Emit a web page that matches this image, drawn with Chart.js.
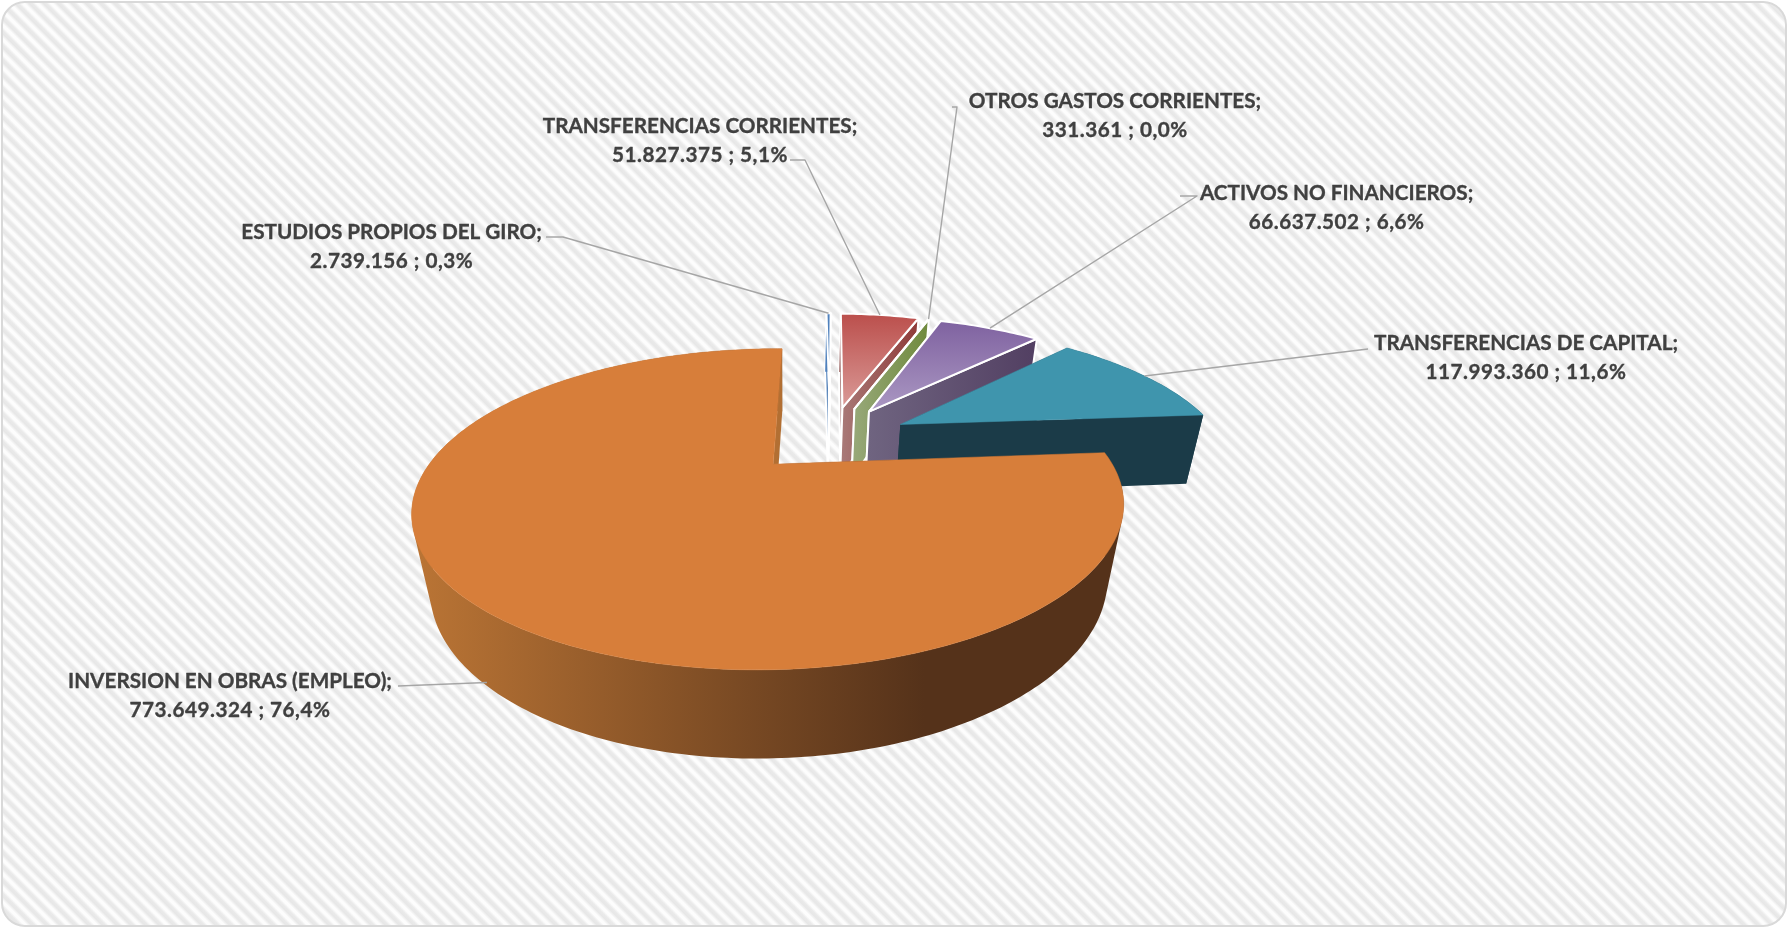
<!DOCTYPE html>
<html><head><meta charset="utf-8">
<script src="https://cdn.jsdelivr.net/npm/chart.js@4"></script>
<style>
html,body{margin:0;padding:0;background:#fff;width:1788px;height:928px;overflow:hidden}
#frame{position:absolute;left:1px;top:1px;width:1782px;height:922px;border:2.5px solid #d9d9d9;border-radius:24px;
background:repeating-linear-gradient(45deg,#e7e7e7 0,#eaeaea 2.5px,#fdfdfd 5px,#fdfdfd 7px,#e7e7e7 10px);}
canvas{position:absolute;left:0;top:0}
</style></head>
<body><div id="frame"></div><canvas id="c" width="1788" height="928"></canvas>
<script>
const categories=["INVERSION EN OBRAS (EMPLEO)","ESTUDIOS PROPIOS DEL GIRO","TRANSFERENCIAS CORRIENTES","OTROS GASTOS CORRIENTES","ACTIVOS NO FINANCIEROS","TRANSFERENCIAS DE CAPITAL"];
const values=[773649324,2739156,51827375,331361,66637502,117993360];
const percents=["76,4%","0,3%","5,1%","0,0%","6,6%","11,6%"];
const topColorsA=["#d77e3a","#4f81bd","#bb4f4c","#7b9a45","#7f62a0","#3f95ad"];
const topColorsB=["#d77e3a","#4f81bd","#da9a97","#7b9a45","#ab98c3","#3f95ad"];
const wallColorsA=["#bb7535","#4f81bd","#a97a78","#97a878","#6f6480","#1b3b48"];
const wallColorsB=["#55321a","#3f6897","#8f3a38","#6f8a3d","#523f62","#1b3b48"];
const endFaceColors=["#b26f33",null,null,null,null,null];
const borders=[null,"#ffffff","#ffffff","#ffffff","#ffffff",null];
const labelCenters=[[230,681],[391.6,232.5],[700,126],[1115,101.5],[1336.6,193],[1526,343]];
const leaderElbows=[[[398,686]],[[563,237],[546,237]],[[805,160],[790,160]],[[957,107],[952,107]],[[1197,196],[1180,196]],[[1368,349]]];
const leaderDepth=[0.95,0,0,0,0,0];
const view={Cx:830,Cy:438.4,A:324,B:6.5,D:133.6,E:75,G:-2,k:0.267,m:0.007,n:0.045};
const project=(u,v,d)=>{const w=1-view.k*v+view.m*u+view.n*d;return [view.Cx+(view.A*u+view.B*v+view.G*d)/w,view.Cy+(view.D*v+view.E*d)/w];};
const fmt=n=>String(n).replace(/\B(?=(\d{3})+(?!\d))/g,".");
const area=q=>q.reduce((acc,p,i)=>{const r=q[(i+1)%q.length];return acc+p[0]*r[1]-r[0]*p[1];},0);

const pie3d={id:"pie3d",
 beforeDatasetDraw(chart,args){
  const ctx=chart.ctx,meta=chart.getDatasetMeta(0);
  const order=[1,2,3,4,5,0];
  for(const i of order){
   const a=meta.data[i],e=a.options.offset/a.outerRadius;
   const s=a.startAngle,t=a.endAngle,mid=(s+t)/2;
   const ox=e*Math.cos(mid),oy=e*Math.sin(mid);
   const steps=Math.max(2,Math.ceil((t-s)/(Math.PI/180)));
   const outer=[];for(let j=0;j<=steps;j++){const th=s+(t-s)*j/steps;outer.push([ox+Math.cos(th),oy+Math.sin(th)]);}
   const P=(p,d)=>project(p[0],p[1],d);
   const addPoly=(pts)=>{pts.forEach((q,j)=>j?ctx.lineTo(q[0],q[1]):ctx.moveTo(q[0],q[1]));ctx.closePath();};
   const poly=(pts)=>{ctx.beginPath();addPoly(pts);};
   const topPts=[project(ox,oy,0),...outer.map(p=>P(p,0))];
   const xs=topPts.map(q=>q[0]),ys=topPts.map(q=>q[1]);
   const x0=Math.min(...xs),x1=Math.max(...xs),y0=Math.min(...ys),y1=Math.max(...ys);
   const wg=ctx.createLinearGradient(x0,0,x1,0);wg.addColorStop(0,wallColorsA[i]);wg.addColorStop(i===0?0.72:1,wallColorsB[i]);wg.addColorStop(1,wallColorsB[i]);
   const tg=ctx.createLinearGradient(0,y0,0,y1);tg.addColorStop(0,topColorsA[i]);tg.addColorStop(1,topColorsB[i]);
   const bc=borders[i];
   ctx.lineJoin="round";
   const faceS=[project(ox,oy,0),P(outer[0],0),P(outer[0],1),project(ox,oy,1)];
   const faceE=[project(ox,oy,0),P(outer[steps],0),P(outer[steps],1),project(ox,oy,1)];
   poly(faceS);ctx.fillStyle=wg;ctx.fill();if(bc){ctx.strokeStyle=bc;ctx.lineWidth=2;ctx.stroke();}
   ctx.beginPath();
   for(let j=0;j<steps;j++){
     let q=[P(outer[j],0),P(outer[j+1],0),P(outer[j+1],1),P(outer[j],1)];
     if(area(q)<0)q=q.reverse();
     addPoly(q);
   }
   ctx.fillStyle=wg;ctx.fill("nonzero");
   poly(faceE);ctx.fillStyle=endFaceColors[i]||wg;ctx.fill();if(bc){ctx.strokeStyle=bc;ctx.lineWidth=2;ctx.stroke();}
   poly(topPts);ctx.fillStyle=tg;ctx.fill();
   if(bc){ctx.strokeStyle=bc;ctx.lineWidth=2;ctx.stroke();}else{ctx.strokeStyle=tg;ctx.lineWidth=0.5;ctx.stroke();}
  }
  return false;
 },
 afterDraw(chart){
  const ctx=chart.ctx,meta=chart.getDatasetMeta(0);
  ctx.save();
  meta.data.forEach((a,i)=>{
   const e=a.options.offset/a.outerRadius,mid=(a.startAngle+a.endAngle)/2;
   const p=project((1+e)*Math.cos(mid),(1+e)*Math.sin(mid),leaderDepth[i]);
   ctx.beginPath();ctx.moveTo(p[0],p[1]);
   leaderElbows[i].forEach(q=>ctx.lineTo(q[0],q[1]));
   ctx.strokeStyle="#a6a6a6";ctx.lineWidth=1.4;ctx.stroke();
   const [cx,cy]=labelCenters[i];
   ctx.font='bold 20.7px Lato';ctx.fillStyle="#404040";ctx.strokeStyle="#404040";ctx.lineWidth=0.35;ctx.textAlign="center";ctx.textBaseline="middle";
   const l1=categories[i]+";",l2=fmt(values[i])+" ; "+percents[i];
   ctx.letterSpacing="0px";
   ctx.fillText(l1,cx,cy);ctx.strokeText(l1,cx,cy);
   ctx.letterSpacing="0.5px";
   ctx.fillText(l2,cx,cy+29.2);ctx.strokeText(l2,cx,cy+29.2);
  });
  ctx.restore();
 }
};
new Chart(document.getElementById("c"),{
 type:"pie",
 data:{labels:categories,datasets:[{data:values,backgroundColor:topColorsA,offset:80,borderWidth:0}]},
 options:{responsive:false,animation:false,rotation:85.5,radius:320,layout:{padding:0},
  plugins:{legend:{display:false},tooltip:{enabled:false},title:{display:false}},events:[]},
 plugins:[pie3d]
});
</script></body></html>
